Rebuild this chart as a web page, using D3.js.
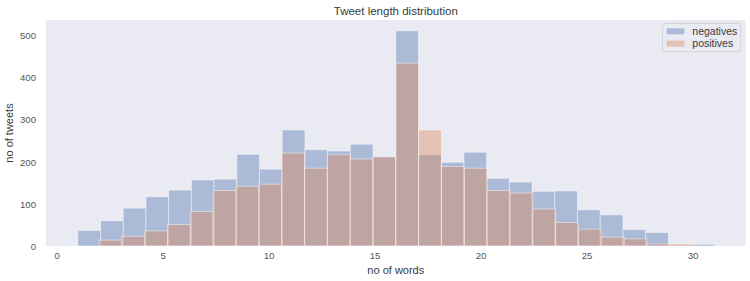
<!DOCTYPE html>
<html>
<head>
<meta charset="utf-8">
<script src="https://cdn.jsdelivr.net/npm/d3@7"></script>
<style>
  body { margin: 0; background: #fff; }
  svg { display: block; font-family: "Liberation Sans", Arial, sans-serif; }
  .axis text { fill: #555555; font-size: 9.6px; }
  .axis path, .axis line { display: none; }
  .lbl { fill: #3a3a3a; }
</style>
</head>
<body>
<div id="chartArea"></div>
<script>
// TWEET LENGTH HISTOGRAM -

// bin ranges (min / max word count of each group) and bin counts
var negRange = [1, 31];
var posRange = [2, 30];

// counts per bin
var negCounts = [37, 60, 90, 117, 133, 157, 159, 218, 183, 276, 229, 226, 242, 213,
                 512, 217, 199, 223, 161, 152, 130, 131, 86, 74, 39, 32, 2, 4];
var posCounts = [14, 23, 36, 51, 82, 132, 142, 147, 221, 185, 217, 207, 212, 435,
                 276, 189, 185, 132, 126, 88, 56, 40, 21, 17, 5, 5];

var xTicks = [0, 5, 10, 15, 20, 25, 30];
var yTicks = [0, 100, 200, 300, 400, 500];
var seriesNames = ["negatives", "positives"];
var colors = ["#4C72B0", "#DD8452"];

(function() {

    // 1. dimensions
    var width = 750, height = 281;
    var left = 46, right = 745.6, top = 20, bottom = 246;

    // 2. turn ranges + counts into bins
    function bins(range, counts) {
        var w = (range[1] - range[0]) / counts.length;
        return counts.map(function(c, i) {
            return {x0: range[0] + i * w, x1: range[0] + (i + 1) * w, y: c};
        });
    }
    var negBins = bins(negRange, negCounts);
    var posBins = bins(posRange, posCounts);

    // 3. scales (matplotlib style 5% margins)
    var xmin = Math.min(negRange[0], posRange[0]), xmax = Math.max(negRange[1], posRange[1]);
    var pad = (xmax - xmin) * 0.05;
    var x = d3.scaleLinear().domain([xmin - pad, xmax + pad]).range([left, right]);
    var ymax = d3.max(negCounts.concat(posCounts)) * 1.05;
    var y = d3.scaleLinear().domain([0, ymax]).range([bottom, top]);

    var svg = d3.select("#chartArea").append("svg")
        .attr("width", width)
        .attr("height", height);

    // plot background
    svg.append("rect")
        .attr("x", left).attr("y", top)
        .attr("width", right - left).attr("height", bottom - top)
        .attr("fill", "#EAEAF2");

    // 4. bars
    [negBins, posBins].forEach(function(data, i) {
        svg.append("g").selectAll("rect")
            .data(data)
            .enter().append("rect")
            .attr("x", function(d) { return x(d.x0); })
            .attr("width", function(d) { return x(d.x1) - x(d.x0); })
            .attr("y", function(d) { return y(d.y); })
            .attr("height", function(d) { return y(0) - y(d.y); })
            .attr("fill", colors[i])
            .attr("fill-opacity", 0.4)
            .attr("stroke", "#ffffff")
            .attr("stroke-opacity", 0.45)
            .attr("stroke-width", 1);
    });

    // 5. axes
    svg.append("g")
        .attr("class", "axis")
        .attr("transform", "translate(0," + bottom + ")")
        .call(d3.axisBottom(x).tickValues(xTicks).tickSize(0).tickPadding(6));
    svg.append("g")
        .attr("class", "axis")
        .attr("transform", "translate(" + left + ",0)")
        .call(d3.axisLeft(y).tickValues(yTicks).tickSize(0).tickPadding(10));

    // title + labels
    svg.append("text")
        .attr("class", "lbl")
        .attr("x", (left + right) / 2).attr("y", 14.5)
        .attr("text-anchor", "middle")
        .attr("font-size", "11.5px")
        .text("Tweet length distribution");
    svg.append("text")
        .attr("class", "lbl")
        .attr("x", (left + right) / 2).attr("y", 273.5)
        .attr("text-anchor", "middle")
        .attr("font-size", "11px")
        .text("no of words");
    svg.append("text")
        .attr("class", "lbl")
        .attr("transform", "translate(13," + (top + bottom) / 2 + ")rotate(-90)")
        .attr("text-anchor", "middle")
        .attr("font-size", "11px")
        .text("no of tweets");

    // 6. legend
    var lg = svg.append("g");
    lg.append("rect")
        .attr("x", 662.7).attr("y", 23.3)
        .attr("width", 78).attr("height", 28.4)
        .attr("rx", 2)
        .attr("fill", "#EAEAF2").attr("fill-opacity", 0.8)
        .attr("stroke", "#cccccc").attr("stroke-width", 0.8);
    seriesNames.forEach(function(name, i) {
        var cy = 31.3 + i * 12.3;
        lg.append("rect")
            .attr("x", 666.7).attr("y", cy - 3)
            .attr("width", 17.6).attr("height", 6)
            .attr("fill", colors[i]).attr("fill-opacity", 0.4);
        lg.append("text")
            .attr("class", "lbl")
            .attr("x", 692.3).attr("y", cy + 3.7)
            .attr("font-size", "10.5px")
            .text(name);
    });
})()
</script>
</body>
</html>
